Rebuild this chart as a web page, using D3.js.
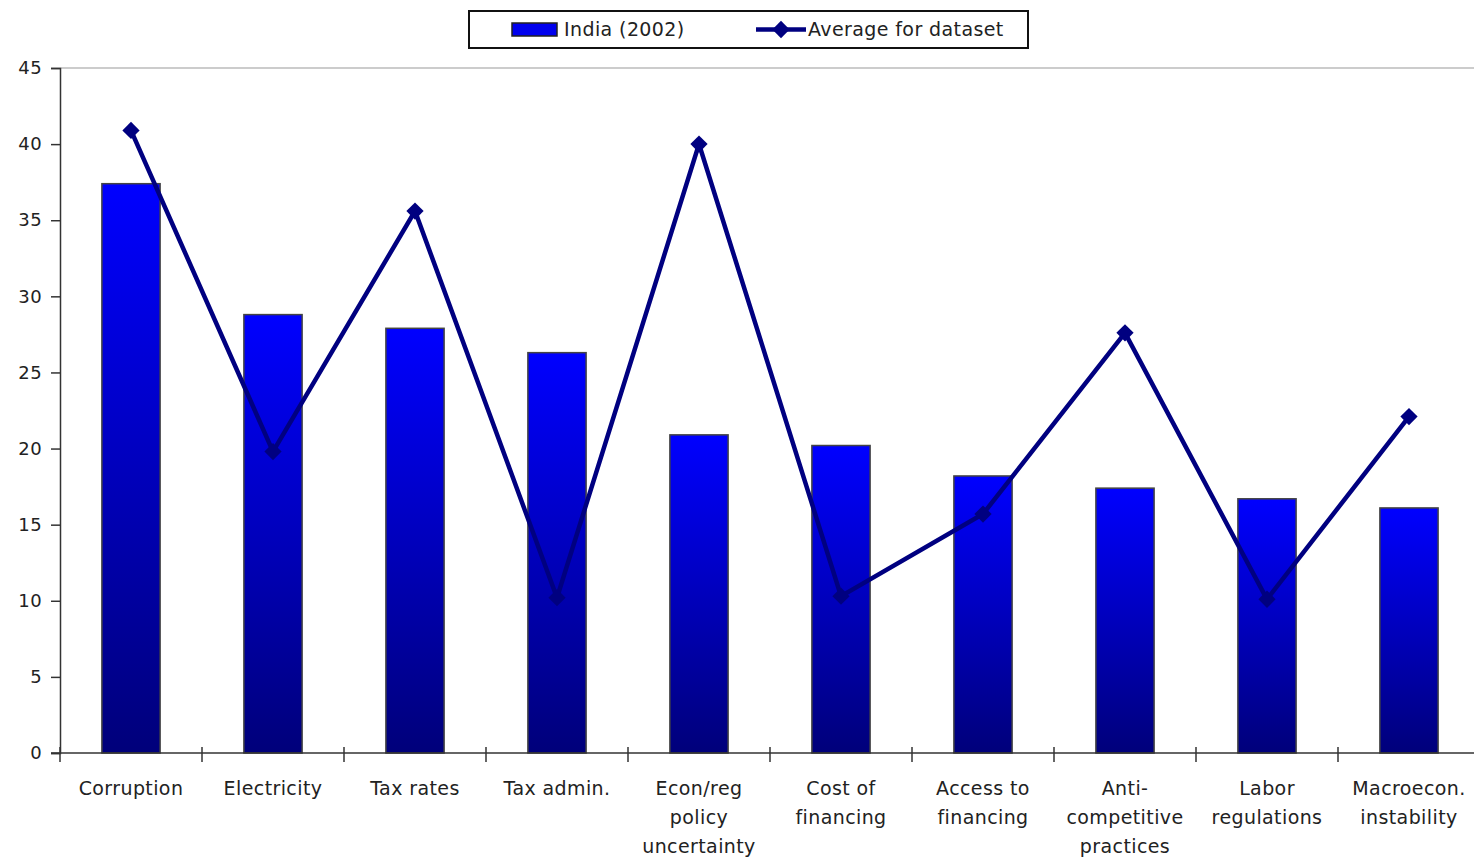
<!DOCTYPE html>
<html><head><meta charset="utf-8">
<script src="https://cdn.jsdelivr.net/npm/d3@7"></script>
<style>body{margin:0;background:#fff}svg{display:block}text{font-family:"DejaVu Sans",sans-serif;fill:#222;letter-spacing:0.4px}</style>
</head><body>
<svg id="c" width="1474" height="857"></svg>
<script>
const categories = [["Corruption"],["Electricity"],["Tax rates"],["Tax admin."],["Econ/reg","policy","uncertainty"],["Cost of","financing"],["Access to","financing"],["Anti-","competitive","practices"],["Labor","regulations"],["Macroecon.","instability"]];
const indiaValues = [37.4, 28.8, 27.9, 26.3, 20.9, 20.2, 18.2, 17.4, 16.7, 16.1];
const averageValues = [40.9, 19.8, 35.6, 10.2, 40.0, 10.3, 15.7, 27.6, 10.1, 22.1];
const yTicks = [0,5,10,15,20,25,30,35,40,45];
const seriesNames = ["India (2002)", "Average for dataset"];

(function(){
const svg = d3.select("#c");
const pL = 60, pR = 1480, pT = 68, pB = 753;
const ids = d3.range(categories.length);
const x = d3.scaleBand().domain(ids).range([pL, pR]).paddingInner(0.59).paddingOuter(0.295);
const xb = d3.scaleBand().domain(ids).range([pL, pR]);
const y = d3.scaleLinear().domain([0,45]).range([pB, pT]);

const defs = svg.append("defs");
const g = defs.append("linearGradient").attr("id","bg")
  .attr("x1",0).attr("x2",0).attr("y1",0).attr("y2",1);
g.append("stop").attr("offset","0").attr("stop-color","#0000ff");
g.append("stop").attr("offset","1").attr("stop-color","#00007a");

svg.append("line").attr("x1",pL).attr("x2",1474).attr("y1",y(45)).attr("y2",y(45)).attr("stroke","#999").attr("stroke-width",1.2);

svg.selectAll("rect.bar").data(indiaValues).join("rect").attr("class","bar")
  .attr("x",(d,i)=>x(i)).attr("width",x.bandwidth())
  .attr("y",d=>y(d)).attr("height",d=>y(0)-y(d))
  .attr("fill","url(#bg)").attr("stroke","#444").attr("stroke-width",1.5);

const ya = d3.axisLeft(y).tickValues(yTicks).tickSize(9).tickPadding(9);
const yg = svg.append("g").attr("transform",`translate(${pL},0)`).call(ya);
yg.select(".domain").attr("stroke","#333").attr("stroke-width",1.5);
yg.selectAll(".tick line").attr("stroke","#333").attr("stroke-width",1.5);
yg.selectAll(".tick text").style("font-size","18px").style("font-family","DejaVu Sans").attr("fill","#222");

svg.append("line").attr("x1",pL-9).attr("x2",1474).attr("y1",pB).attr("y2",pB).attr("stroke","#333").attr("stroke-width",1.5);
const bounds = ids.map(i=>xb(i));
svg.selectAll("line.xt").data(bounds).join("line").attr("class","xt")
  .attr("x1",d=>d).attr("x2",d=>d).attr("y1",pB-6).attr("y2",pB+9)
  .attr("stroke","#333").attr("stroke-width",1.5);

const lab = svg.selectAll("text.xl").data(categories).join("text").attr("class","xl")
  .attr("text-anchor","middle").style("font-size","19px");
lab.each(function(lines,i){
  const t = d3.select(this);
  lines.forEach((s,k)=>t.append("tspan").attr("x",xb(i)+xb.bandwidth()/2).attr("y",795+k*29).text(s));
});

const line = d3.line().x((d,i)=>xb(i)+xb.bandwidth()/2).y(d=>y(d));
svg.append("path").datum(averageValues).attr("d",line).attr("fill","none").attr("stroke","#000080").attr("stroke-width",4.5);
const diamond = d3.symbol().type(d3.symbolDiamond2).size(190);
svg.selectAll("path.mk").data(averageValues).join("path").attr("class","mk")
  .attr("d",diamond).attr("transform",(d,i)=>`translate(${xb(i)+xb.bandwidth()/2},${y(d)})`)
  .attr("fill","#000080");

const lg = svg.append("g");
lg.append("rect").attr("x",469).attr("y",11).attr("width",559).attr("height",37).attr("fill","#fff").attr("stroke","#111").attr("stroke-width",2);
lg.append("rect").attr("x",512).attr("y",23).attr("width",45).attr("height",13).attr("fill","#0000ee").attr("stroke","#222").attr("stroke-width",1.5);
lg.append("text").attr("x",564).attr("y",36).style("font-size","19px").text(seriesNames[0]);
lg.append("line").attr("x1",756).attr("x2",806).attr("y1",29.5).attr("y2",29.5).attr("stroke","#000080").attr("stroke-width",4.5);
lg.append("path").attr("d",diamond).attr("transform","translate(781,29.5)").attr("fill","#000080");
lg.append("text").attr("x",808).attr("y",36).style("font-size","19px").text(seriesNames[1]);
})();
</script>
</body></html>
